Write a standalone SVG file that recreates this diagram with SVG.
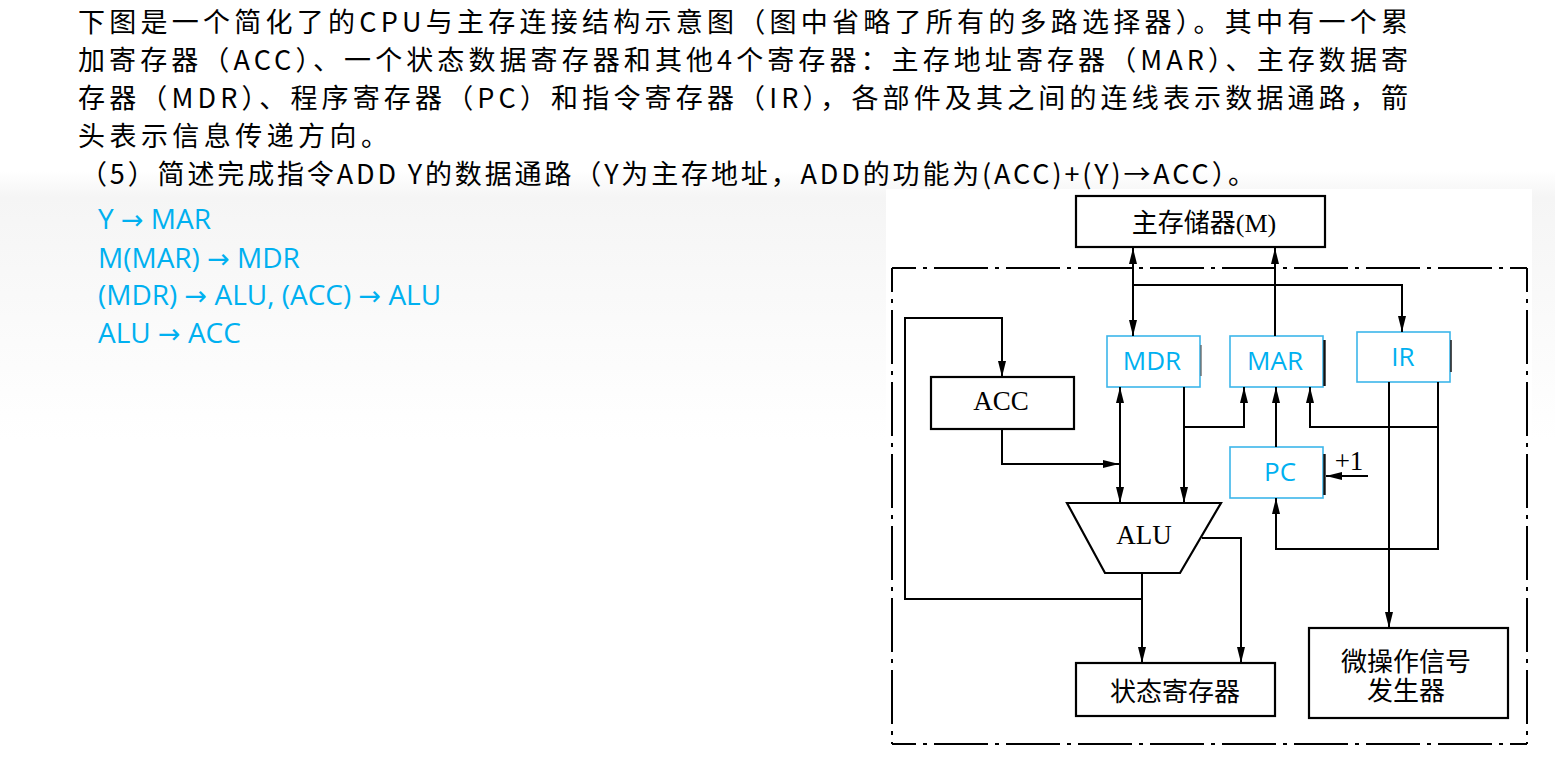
<svg xmlns="http://www.w3.org/2000/svg" width="1555" height="758" viewBox="0 0 1555 758">
<defs>
<linearGradient id="bg" gradientUnits="userSpaceOnUse" x1="0" y1="0" x2="0" y2="758">
<stop offset="0" stop-color="#ffffff"/>
<stop offset="0.225" stop-color="#ffffff"/>
<stop offset="0.26" stop-color="#f5f5f5"/>
<stop offset="0.58" stop-color="#ffffff"/>
<stop offset="1" stop-color="#ffffff"/>
</linearGradient>
<marker id="ah" viewBox="0 0 16 8" refX="16" refY="4" markerWidth="16" markerHeight="8" markerUnits="userSpaceOnUse" orient="auto-start-reverse">
<path d="M0,0 L16,4 L0,8 Z" fill="#000"/>
</marker>
<style>
.hd{font-family:"Noto Sans CJK SC","Liberation Sans",sans-serif;font-size:27px;fill:#000;}
.ans{font-family:"Open Sans","Liberation Sans",sans-serif;font-size:28px;fill:#00b0f0;}
.ar{font-family:"DejaVu Sans",sans-serif;font-size:27px;}
.box{fill:#fff;stroke:#000;stroke-width:2.2;}
.cbox{fill:#fff;stroke:#3cb6ea;stroke-width:1.6;}
.ser{font-family:"Liberation Serif","Noto Sans CJK SC",serif;font-size:27px;fill:#000;text-anchor:middle;}
.cjk{font-family:"Liberation Serif","Noto Sans CJK SC",serif;font-size:26px;fill:#000;text-anchor:middle;}
.clab{font-family:"Open Sans","Liberation Sans",sans-serif;font-size:26px;fill:#00b0f0;text-anchor:middle;}
.ln{fill:none;stroke:#000;stroke-width:2;}
.dd{fill:none;stroke:#000;stroke-width:2;stroke-dasharray:54 7 4 7;stroke-dashoffset:30;}
.edge{stroke:#111;stroke-width:2.4;}
</style>
</defs>
<rect x="0" y="0" width="1555" height="758" fill="url(#bg)"/>
<rect x="886" y="189" width="646" height="569" fill="#ffffff"/>

<g id="question">
<text class="hd" x="78" y="31.5" textLength="1330" lengthAdjust="spacing">下图是一个简化了的CPU与主存连接结构示意图（图中省略了所有的多路选择器）。其中有一个累</text>
<text class="hd" x="78" y="69.5" textLength="1330" lengthAdjust="spacing">加寄存器（ACC）、一个状态数据寄存器和其他4个寄存器：主存地址寄存器（MAR）、主存数据寄</text>
<text class="hd" x="78" y="108" textLength="1330" lengthAdjust="spacing">存器（MDR）、程序寄存器（PC）和指令寄存器（IR），各部件及其之间的连线表示数据通路，箭</text>
<text class="hd" x="78" y="146" textLength="310" lengthAdjust="spacing">头表示信息传递方向。</text>
<text class="hd" x="80" y="184" textLength="1175" lengthAdjust="spacing">（5）简述完成指令ADD Y的数据通路（Y为主存地址，ADD的功能为(ACC)+(Y)→ACC）。</text>
</g>

<g id="answer">
<text class="ans" x="98" y="229">Y <tspan class="ar">→</tspan> MAR</text>
<text class="ans" x="98" y="268">M(MAR) <tspan class="ar">→</tspan> MDR</text>
<text class="ans" x="98" y="305">(MDR) <tspan class="ar">→</tspan> ALU, (ACC) <tspan class="ar">→</tspan> ALU</text>
<text class="ans" x="98" y="343">ALU <tspan class="ar">→</tspan> ACC</text>
</g>

<g id="cpu-boundary">
<path class="dd" d="M892,268 H1527"/>
<path class="dd" d="M892,268 V744"/>
<path class="dd" d="M1527,268 V744"/>
<path class="dd" d="M892,744 H1527"/>
</g>

<g id="memory">
<rect class="box" x="1076" y="196" width="249" height="51"/>
<text class="cjk" x="1204" y="232" font-size="25">主存储器(M)</text>
</g>

<g id="mdr">
<rect class="cbox" x="1107" y="336" width="93" height="51"/>
<line x1="1201" y1="345" x2="1201" y2="376" stroke="#555" stroke-width="1.2"/>
<text class="clab" x="1152" y="370">MDR</text>
</g>

<g id="mar">
<rect class="cbox" x="1230" y="336" width="93" height="51"/>
<line class="edge" x1="1324.5" y1="340" x2="1324.5" y2="386"/>
<text class="clab" x="1275" y="370">MAR</text>
</g>

<g id="ir">
<rect class="cbox" x="1357" y="332" width="93" height="50"/>
<line x1="1451" y1="340" x2="1451" y2="372" stroke="#222" stroke-width="1.6"/>
<text class="clab" x="1403" y="366">IR</text>
</g>

<g id="acc">
<rect class="box" x="931" y="377" width="143" height="52"/>
<text class="ser" x="1001" y="410">ACC</text>
</g>

<g id="pc">
<rect class="cbox" x="1230" y="447" width="93" height="51"/>
<line class="edge" x1="1324.5" y1="454" x2="1324.5" y2="495"/>
<text class="clab" x="1280" y="481">PC</text>
<text class="ser" x="1349" y="470" font-size="24">+1</text>
</g>

<g id="alu">
<path class="box" d="M1067,503 H1221 L1180,573 H1105 Z"/>
<text class="ser" x="1144" y="544" font-size="26">ALU</text>
</g>

<g id="status-register">
<rect class="box" x="1076" y="663" width="199" height="53"/>
<text class="cjk" x="1175" y="701">状态寄存器</text>
</g>

<g id="micro-op-generator">
<rect class="box" x="1309" y="628" width="199" height="90"/>
<text class="cjk" x="1406" y="671">微操作信号</text>
<text class="cjk" x="1406" y="700">发生器</text>
</g>

<g id="connectors">
<path class="ln" d="M1133,248 V336" marker-start="url(#ah)" marker-end="url(#ah)"/>
<path class="ln" d="M1133,285 H1402 V332" marker-end="url(#ah)"/>
<path class="ln" d="M1275,336 V248" marker-end="url(#ah)"/>
<path class="ln" d="M1142,599 H905 V318 H1002 V377" marker-end="url(#ah)"/>
<path class="ln" d="M1002,429 V464 H1119" marker-end="url(#ah)"/>
<path class="ln" d="M1120,387 V503" marker-start="url(#ah)" marker-end="url(#ah)"/>
<path class="ln" d="M1184,387 V503" marker-end="url(#ah)"/>
<path class="ln" d="M1184,427 H1244 V387" marker-end="url(#ah)"/>
<path class="ln" d="M1276,447 V387" marker-end="url(#ah)"/>
<path class="ln" d="M1438,382 V549 H1276 V498" marker-end="url(#ah)"/>
<path class="ln" d="M1438,427 H1310 V387" marker-end="url(#ah)"/>
<path class="ln" d="M1389,382 V628" marker-end="url(#ah)"/>
<path class="ln" d="M1142,573 V663" marker-end="url(#ah)"/>
<path class="ln" d="M1202,538 H1241 V663" marker-end="url(#ah)"/>
<path class="ln" d="M1368,476 H1326" marker-end="url(#ah)"/>
</g>
</svg>
